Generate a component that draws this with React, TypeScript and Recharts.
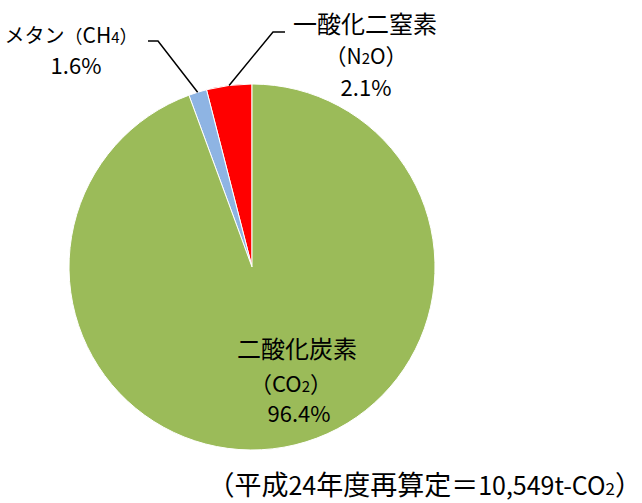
import { PieChart, Pie, Cell } from 'recharts'

// slice sizes as drawn (the red wedge is visibly wider than its printed 2.1%)
const gases = ['N2O', 'CH4', 'CO2']
const shares = [4.0, 1.6, 94.4]
const colors = ['#FF0000', '#8EB4E3', '#9BBB59']

// label text as printed
const names = ['一酸化二窒素', 'メタン', '二酸化炭素']
const formulas = [['N', '2', 'O'], ['CH', '4', ''], ['CO', '2', '']]
const pctLabels = ['2.1%', '1.6%', '96.4%']
const footnote = ['（平成24年度再算定＝10,549t-CO', '2', '）']

const data = gases.map((g, i) => ({ gas: g, value: shares[i] }))

const font = "'Noto Sans CJK JP', 'Noto Sans', sans-serif"
const RAD = Math.PI / 180
const wide = /[\u3000-\u9fff\uff00-\uffef]/

// wide (CJK / full-width) characters get a bigger size than latin ones
const Mixed = ({ s, cjk, latin }: { s: string; cjk: number; latin: number }) => {
  const runs: { t: string; w: boolean }[] = []
  for (const ch of s) {
    const w = wide.test(ch)
    const last = runs[runs.length - 1]
    if (last && last.w === w) last.t += ch
    else runs.push({ t: ch, w })
  }
  return (
    <>
      {runs.map((r, i) => (
        <tspan key={i} fontSize={r.w ? cjk : latin}>{r.t}</tspan>
      ))}
    </>
  )
}

const Formula = ({ f, cjk, latin, sub }: { f: string[]; cjk: number; latin: number; sub: number }) => (
  <>
    <tspan fontSize={cjk}>（</tspan>
    <tspan fontSize={latin}>{f[0]}</tspan>
    <tspan fontSize={sub}>{f[1]}</tspan>
    <tspan fontSize={latin}>{f[2]}</tspan>
    <tspan fontSize={cjk}>）</tspan>
  </>
)

const renderLabel = (props: any) => {
  const { cx, cy, midAngle, outerRadius, index } = props
  const ex = cx + outerRadius * Math.cos(-midAngle * RAD)
  const ey = cy + outerRadius * Math.sin(-midAngle * RAD)
  const common = { fontFamily: font, fill: '#000', textAnchor: 'middle' as const }
  if (index === 0) {
    return (
      <g key="l0">
        <polyline points={`${ex},${ey} 273,32 285,32`} fill="none" stroke="#000" strokeWidth={1.5} />
        <text x={365} y={33} fontSize={24} {...common}>{names[0]}</text>
        <text x={366} y={64} {...common}><Formula f={formulas[0]} cjk={22} latin={21} sub={15} /></text>
        <text x={366} y={96} fontSize={22} {...common}>{pctLabels[0]}</text>
      </g>
    )
  }
  if (index === 1) {
    return (
      <g key="l1">
        <polyline points={`${ex},${ey} 158,41 148,41`} fill="none" stroke="#000" strokeWidth={1.5} />
        <text x={71} y={43} {...common}>
          <tspan fontSize={20}>{names[1]}</tspan>
          <Formula f={formulas[1]} cjk={18} latin={21} sub={15} />
        </text>
        <text x={76} y={74} fontSize={22} {...common}>{pctLabels[1]}</text>
      </g>
    )
  }
  return (
    <g key="l2">
      <text x={297} y={358} fontSize={24} {...common}>{names[2]}</text>
      <text x={291} y={392} {...common}><Formula f={formulas[2]} cjk={22} latin={22} sub={15} /></text>
      <text x={299} y={422} fontSize={22} {...common}>{pctLabels[2]}</text>
    </g>
  )
}

export default function App() {
  return (
    <div style={{ position: 'absolute', left: 0, top: 0, width: 642, height: 503, background: '#fff' }}>
      <PieChart width={642} height={503} margin={{ top: 0, right: 0, bottom: 0, left: 0 }}>
        <Pie
          data={data}
          dataKey="value"
          nameKey="gas"
          cx={252}
          cy={267}
          outerRadius={183}
          startAngle={90}
          endAngle={450}
          stroke="#fff"
          strokeWidth={1}
          label={renderLabel}
          labelLine={false}
          isAnimationActive={false}
        >
          {data.map((d, i) => (
            <Cell key={d.gas} fill={colors[i]} />
          ))}
        </Pie>
        <text x={642} y={495} textAnchor="end" fontFamily={font} fill="#000">
          <Mixed s={footnote[0]} cjk={27} latin={25} />
          <tspan fontSize={17}>{footnote[1]}</tspan>
          <tspan fontSize={27}>{footnote[2]}</tspan>
        </text>
      </PieChart>
    </div>
  )
}
